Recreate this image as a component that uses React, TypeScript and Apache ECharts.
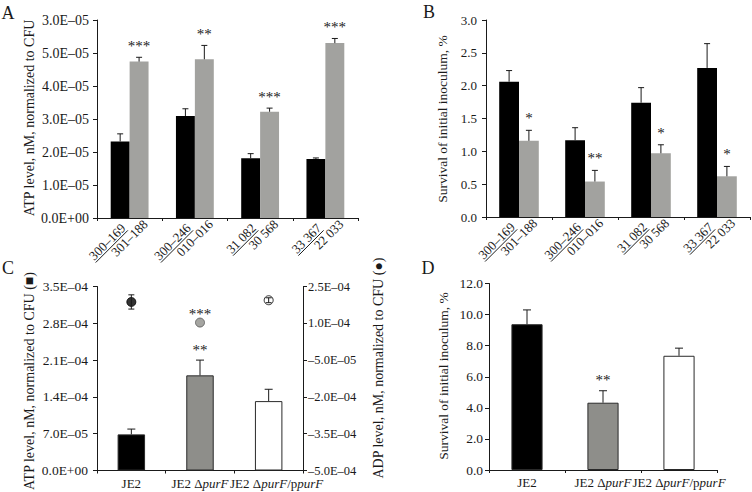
import React, { useEffect, useRef } from "react";
import * as echarts from "echarts";

const strainPairs = ["300–169\n301–188", "300–246\n010–016", "31 082\n30 568", "33 367\n22 033"];
const atpParent = [2.32e-5, 3.09e-5, 1.81e-5, 1.79e-5];
const atpParentErr = [0.23e-5, 0.22e-5, 0.14e-5, 0.03e-5];
const atpMutant = [4.74e-5, 4.81e-5, 3.22e-5, 5.3e-5];
const atpMutantErr = [0.13e-5, 0.42e-5, 0.11e-5, 0.14e-5];
const atpStars = ["***", "**", "***", "***"];
const atpTicks = ["0.0E+00", "1.0E–05", "2.0E–05", "3.0E–05", "4.0E–05", "5.0E–05", "3.0E–05"];

const survParent = [2.06, 1.17, 1.74, 2.27];
const survParentErr = [0.17, 0.19, 0.23, 0.37];
const survMutant = [1.16, 0.54, 0.97, 0.62];
const survMutantErr = [0.16, 0.17, 0.13, 0.15];
const survStars = ["*", "**", "*", "*"];
const survTicks = ["0.0", "0.5", "1.0", "1.5", "2.0", "2.5", "3.0"];

const strainsJE2 = ["JE2", "JE2 ΔpurF", "JE2 ΔpurF/ppurF"];
const atpC = [6.87e-5, 1.81e-4, 1.32e-4];
const atpCErr = [1.01e-5, 2.9e-5, 2.25e-5];
const atpCStars = ["", "**", ""];
const adpC = [1.87e-4, 1.03e-4, 1.94e-4];
const adpCErr = [2.9e-5, 0, 1.0e-5];
const adpCStars = ["", "***", ""];
const atpCTicks = ["0.0E+00", "7.0E–05", "1.4E–04", "2.1E–04", "2.8E–04", "3.5E–04"];
const adpCTicks = ["–5.0E–04", "–3.5E–04", "–2.0E–04", "–5.0E–05", "1.0E–04", "2.5E–04"];

const survD = [9.38, 4.33, 7.35];
const survDErr = [0.92, 0.77, 0.49];
const survDStars = ["", "**", ""];
const survDTicks = ["0.0", "2.0", "4.0", "6.0", "8.0", "10.0", "12.0"];

const FONT = "'Liberation Serif', 'DejaVu Serif', serif";
const INK = "#1a1a1a";
const BLACK = "#000000";
const GRAY_AB = "#a2a29f";
const GRAY_CD = "#8e8e8a";
const WHITE = "#ffffff";
const strainColors = [BLACK, GRAY_CD, WHITE];

const GRID_A = { left: 97, top: 20, width: 261, height: 198 };
const GRID_B = { left: 486, top: 20, width: 264, height: 197 };
const GRID_C = { left: 97, top: 286.5, width: 206, height: 184 };
const GRID_D = { left: 489, top: 283.5, width: 228, height: 186.5 };

function measure(text: string, size: number): number {
  const c = document.createElement("canvas").getContext("2d");
  if (!c) return text.length * size * 0.5;
  c.font = `${size}px 'Liberation Serif'`;
  return c.measureText(text).width;
}

function yAxis(gridIndex: number, min: number, max: number, interval: number, ticks: string[], size: number, margin: number, extra: any = {}) {
  return {
    type: "value",
    gridIndex,
    min,
    max,
    interval,
    axisLine: { show: true, lineStyle: { color: INK, width: 1 } },
    axisTick: { show: true, length: 4, lineStyle: { color: INK } },
    splitLine: { show: false },
    axisLabel: {
      fontFamily: FONT,
      fontSize: size,
      color: INK,
      margin,
      formatter: (v: number) => ticks[Math.round((v - min) / interval)] ?? "",
    },
    ...extra,
  };
}

function errRender(vals: number[], errs: number[], stars: string[], offsetFrac: number, capHalf: number, both: boolean, starGap: number) {
  return (params: any, api: any) => {
    const i = params.dataIndex;
    const catW = api.size([1, 0])[0];
    const x = api.coord([i, vals[i]])[0] + offsetFrac * catW;
    const yVal = api.coord([i, vals[i]])[1];
    const yTop = api.coord([i, vals[i] + errs[i]])[1];
    const yLow = both ? api.coord([i, vals[i] - errs[i]])[1] : yVal;
    const children: any[] = [];
    const ls = { stroke: INK, lineWidth: 1 };
    if (errs[i] > 0) {
      children.push({ type: "line", shape: { x1: x, y1: yLow, x2: x, y2: yTop }, style: ls });
      children.push({ type: "line", shape: { x1: x - capHalf, y1: yTop, x2: x + capHalf, y2: yTop }, style: ls });
      if (both) children.push({ type: "line", shape: { x1: x - capHalf, y1: yLow, x2: x + capHalf, y2: yLow }, style: ls });
    }
    if (stars[i]) {
      children.push({
        type: "text",
        style: { text: stars[i], x, y: Math.min(yTop, yVal) - starGap, align: "center", verticalAlign: "middle", fontFamily: FONT, fontSize: 15, fill: INK },
      });
    }
    return { type: "group", children };
  };
}

function errSeries(xi: number, yi: number, vals: number[], errs: number[], stars: string[], offsetFrac: number, capHalf: number, both = false, starGap = 11, z = 5) {
  return {
    type: "custom",
    xAxisIndex: xi,
    yAxisIndex: yi,
    z,
    clip: false,
    silent: true,
    renderItem: errRender(vals, errs, stars, offsetFrac, capHalf, both, starGap),
    data: vals.map((v, i) => [i, v]),
  };
}

// rotated (45°) two-line strain labels under a category axis; first line underlined
function strainLabelGraphics(grid: { left: number; top: number; width: number; height: number }) {
  const size = 13;
  const c = Math.SQRT1_2;
  const n = strainPairs.length;
  const out: any[] = [];
  strainPairs.forEach((pair, i) => {
    const cx = grid.left + ((i + 0.5) * grid.width) / n;
    const cy = grid.top + grid.height;
    const S = (u: number, v: number) => [cx + u * c + v * c, cy - u * c + v * c];
    const [top, bottom] = pair.split("\n");
    const w1 = measure(top, size);
    const w2 = measure(bottom, size);
    const u1 = -10, v1 = 1, u2 = 8.5, v2 = 14;
    const a = S(u1 - w1 / 2, v1);
    const b = S(u2 - w2 / 2, v2);
    const l1 = S(u1 - w1, v1 + 6.5);
    const l2 = S(u1, v1 + 6.5);
    const ts = { fontSize: size, fontFamily: "Liberation Serif", fill: INK, align: "center", verticalAlign: "middle" };
    out.push({ type: "text", x: a[0], y: a[1], rotation: Math.PI / 4, style: { ...ts, text: top } });
    out.push({ type: "line", shape: { x1: l1[0], y1: l1[1], x2: l2[0], y2: l2[1] }, style: { stroke: INK, lineWidth: 1 } });
    out.push({ type: "text", x: b[0], y: b[1], rotation: Math.PI / 4, style: { ...ts, text: bottom } });
  });
  return out;
}

function buildOption() {
  const xCat = (gridIndex: number, data: string[], label: any) => ({
    type: "category",
    gridIndex,
    data,
    axisLine: { show: true, lineStyle: { color: INK, width: 1 } },
    axisTick: { show: true, length: 3, alignWithLabel: false, lineStyle: { color: INK } },
    splitLine: { show: false },
    axisLabel: { interval: 0, color: INK, fontFamily: FONT, ...label },
  });

  const italic = { i: { fontFamily: FONT, fontSize: 13, fontStyle: "italic", color: INK } };
  const labelC = {
    fontSize: 13,
    margin: 6,
    formatter: (v: string, idx: number) => (idx === 2 ? "{gap| }" : "") + v.replace(/purF/g, "{i|purF}"),
    rich: { ...italic, gap: { width: 16, fontSize: 13 } },
  };
  const labelD = {
    fontSize: 13,
    margin: 6,
    formatter: (v: string) => v.replace(/purF/g, "{i|purF}"),
    rich: italic,
  };

  const barPair = (axis: number, data: number[], color: string, width: string) => ({
    type: "bar",
    xAxisIndex: axis,
    yAxisIndex: axis,
    data,
    barWidth: width,
    barGap: "0%",
    itemStyle: { color },
    z: 2,
  });

  const titleText = (text: string, x: number, y: number, size = 14) => ({
    type: "text",
    x,
    y,
    rotation: Math.PI / 2,
    style: { text, fontFamily: FONT, fontSize: size, fill: INK, align: "center", verticalAlign: "middle" },
  });
  const letter = (text: string, x: number, y: number) => ({
    type: "text",
    x,
    y,
    style: { text, fontFamily: FONT, fontSize: 18, fill: INK, align: "center", verticalAlign: "middle" },
  });

  return {
    animation: false,
    backgroundColor: "#ffffff",
    grid: [GRID_A, GRID_B, GRID_C, GRID_D],
    xAxis: [
      xCat(0, strainPairs, { show: false }),
      xCat(1, strainPairs, { show: false }),
      xCat(2, strainsJE2, labelC),
      xCat(3, strainsJE2, labelD),
    ],
    yAxis: [
      yAxis(0, 0, 6e-5, 1e-5, atpTicks, 14, 8),
      yAxis(1, 0, 3, 0.5, survTicks, 13, 9),
      yAxis(2, 0, 3.5e-4, 7e-5, atpCTicks, 13.5, 9),
      yAxis(2, -5e-4, 2.5e-4, 1.5e-4, adpCTicks, 12.5, 5, { position: "right" }),
      yAxis(3, 0, 12, 2, survDTicks, 13.5, 6),
    ],
    series: [
      barPair(0, atpParent, BLACK, "29%"),
      barPair(0, atpMutant, GRAY_AB, "29%"),
      errSeries(0, 0, atpParent, atpParentErr, [], -0.145, 3),
      errSeries(0, 0, atpMutant, atpMutantErr, atpStars, 0.145, 3, false, 11),
      barPair(1, survParent, BLACK, "30%"),
      barPair(1, survMutant, GRAY_AB, "30%"),
      errSeries(1, 1, survParent, survParentErr, [], -0.15, 3),
      errSeries(1, 1, survMutant, survMutantErr, survStars, 0.15, 3, false, 12),
      {
        type: "bar",
        xAxisIndex: 2,
        yAxisIndex: 2,
        barWidth: "40%",
        data: atpC.map((v, i) => ({ value: v, itemStyle: { color: strainColors[i], borderColor: "#2a2a2a", borderWidth: 1 } })),
        z: 2,
      },
      errSeries(2, 2, atpC, atpCErr, atpCStars, 0, 4, false, 10),
      {
        type: "scatter",
        xAxisIndex: 2,
        yAxisIndex: 3,
        symbol: "circle",
        symbolSize: 9,
        z: 3,
        data: adpC.map((v, i) => ({
          value: [i, v],
          itemStyle: { color: strainColors[i], borderColor: i === 1 ? "#555555" : "#000000", borderWidth: 1 },
        })),
      },
      errSeries(2, 3, adpC, adpCErr, adpCStars, 0, 3, true, 9, 6),
      {
        type: "bar",
        xAxisIndex: 3,
        yAxisIndex: 4,
        barWidth: "41%",
        data: survD.map((v, i) => ({ value: v, itemStyle: { color: strainColors[i], borderColor: "#2a2a2a", borderWidth: 1 } })),
        z: 2,
      },
      errSeries(3, 4, survD, survDErr, survDStars, 0, 4, false, 11),
    ],
    graphic: [
      letter("A", 8, 13),
      letter("B", 429, 12),
      letter("C", 8, 268),
      letter("D", 428, 268),
      titleText("ATP level, nM, normalized to CFU", 29, 118),
      titleText("Survival of initial inoculum, %", 442, 119, 13.5),
      titleText("ATP level, nM, normalized to CFU (■)", 29, 381),
      titleText("ADP level, nM, normalized to CFU (●)", 378, 368),
      titleText("Survival of initial inoculum, %", 443, 376, 13.5),
      ...strainLabelGraphics(GRID_A),
      ...strainLabelGraphics(GRID_B),
    ],
  };
}

export default function App() {
  const ref = useRef<HTMLDivElement>(null);
  useEffect(() => {
    if (!ref.current) return;
    const chart = echarts.init(ref.current, undefined, { renderer: "svg" });
    chart.setOption(buildOption() as any);
    return () => chart.dispose();
  }, []);
  return (
    <div
      ref={ref}
      style={{ position: "fixed", left: 0, top: 0, width: 752, height: 492, background: "#fff" }}
    />
  );
}
